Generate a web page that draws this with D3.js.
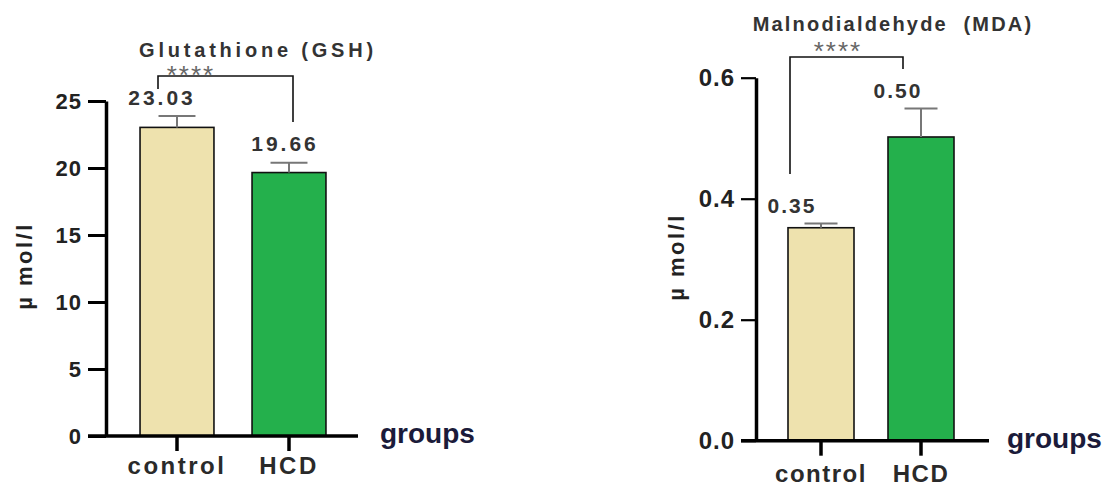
<!DOCTYPE html>
<html>
<head>
<meta charset="utf-8">
<script src="https://cdn.jsdelivr.net/npm/d3@7"></script>
<style>
	html, body { margin: 0; padding: 0; background: #fff; }
	svg { display: block; font-family: "Liberation Sans", Arial, sans-serif; }
</style>
</head>
<body>
<div id="chart"></div>
<script>

// Data:
var groups = ['control', 'HCD'];

var gshMeans = [23.03, 19.66],
	gshErrors = [0.85, 0.73],
	gshLabels = ['23.03', '19.66'],
	gshTicks = [0, 5, 10, 15, 20, 25];

var mdaMeans = [0.352, 0.502],
	mdaErrors = [0.007, 0.047],
	mdaLabels = ['0.35', '0.50'],
	mdaTicks = [0, 0.2, 0.4, 0.6];

var colors = ['#EEE2AE', '#24B04C'];

var svg = d3.select('#chart').append('svg')
	.attr('width', 1109)
	.attr('height', 487);

// Draw one bar panel:
function drawPanel( opts ) {

	var g = svg.append('g');

	var y = d3.scaleLinear()
		.domain( opts.domain )
		.range( [opts.bottom, opts.top] );

	var x = d3.scaleBand()
		.domain( groups )
		.range( opts.xRange )
		.paddingInner( 0.34 )
		.paddingOuter( 0.17 );

	// Bars:
	g.selectAll('rect.bar')
		.data( opts.means )
		.enter().append('rect')
			.attr('class', 'bar')
			.attr('x', function(d, i) { return x(groups[i]); })
			.attr('y', function(d) { return y(d); })
			.attr('width', x.bandwidth())
			.attr('height', function(d) { return y(0) - y(d); })
			.attr('fill', function(d, i) { return colors[i]; })
			.attr('stroke', '#111')
			.attr('stroke-width', 1.6);

	// Error bars (upper half only):
	var capW = x.bandwidth() / 2;
	opts.means.forEach(function(m, i) {
		var cx = x(groups[i]) + x.bandwidth() / 2,
			top = y(m + opts.errors[i]);
		g.append('line')
			.attr('x1', cx).attr('x2', cx)
			.attr('y1', y(m)).attr('y2', top)
			.attr('stroke', '#777').attr('stroke-width', 2);
		g.append('line')
			.attr('x1', cx - capW / 2).attr('x2', cx + capW / 2)
			.attr('y1', top).attr('y2', top)
			.attr('stroke', '#777').attr('stroke-width', 2);
	});

	// Value labels:
	g.selectAll('text.val')
		.data( opts.labels )
		.enter().append('text')
			.attr('class', 'val')
			.attr('x', function(d, i) { return x(groups[i]) + x.bandwidth() / 2 + opts.valShift[i]; })
			.attr('y', function(d, i) { return y(opts.means[i] + opts.errors[i]) + opts.valDy[i]; })
			.attr('text-anchor', 'middle')
			.attr('font-size', 21)
			.attr('font-weight', 'bold')
			.attr('letter-spacing', opts.valSpacing)
			.attr('fill', '#333')
			.text(function(d) { return d; });

	// Y axis:
	var yAxis = d3.axisLeft( y )
		.tickValues( opts.ticks )
		.tickFormat( opts.format )
		.tickSize( opts.tickLen )
		.tickSizeOuter( 0 )
		.tickPadding( 6 );

	var ya = g.append('g')
		.attr('transform', 'translate(' + opts.axisX + ',0)')
		.call( yAxis );
	ya.select('.domain').attr('stroke', '#000').attr('stroke-width', 3.5);
	ya.selectAll('.tick line').attr('stroke', '#000').attr('stroke-width', opts.tickW);
	ya.selectAll('.tick text')
		.attr('font-size', opts.tickFont)
		.attr('font-weight', 'bold')
		.attr('letter-spacing', 1)
		.attr('fill', '#222')
		.attr('font-family', '"Liberation Sans", Arial, sans-serif');

	// X axis:
	g.append('line')
		.attr('x1', opts.axisX - opts.tickLen).attr('x2', opts.xEnd)
		.attr('y1', y(0)).attr('y2', y(0))
		.attr('stroke', '#000').attr('stroke-width', 3.5);

	var xAxis = d3.axisBottom( x )
		.tickSize( 15 )
		.tickSizeOuter( 0 )
		.tickPadding( opts.catPad );

	var xa = g.append('g')
		.attr('transform', 'translate(0,' + y(0) + ')')
		.call( xAxis );
	xa.select('.domain').remove();
	xa.selectAll('.tick line').attr('stroke', '#000').attr('stroke-width', 3.5);
	xa.selectAll('.tick text')
		.attr('font-size', 24)
		.attr('font-weight', 'bold')
		.attr('letter-spacing', opts.catSpacing)
		.attr('fill', '#2a2a2a')
		.attr('font-family', '"Liberation Sans", Arial, sans-serif');

	// "groups" label:
	g.append('text')
		.attr('x', opts.groupsX)
		.attr('y', y(0) + 7)
		.attr('font-size', 28)
		.attr('font-weight', 'bold')
		.attr('fill', '#1B1B3A')
		.text('groups');

	// Y axis title:
	g.append('text')
		.attr('transform', 'translate(' + opts.yTitle[0] + ',' + opts.yTitle[1] + ') rotate(-90)')
		.attr('text-anchor', 'middle')
		.attr('font-size', 22)
		.attr('font-weight', 'bold')
		.attr('letter-spacing', 2.5)
		.attr('fill', '#222')
		.text('\u00B5 mol/l');

	// Chart title:
	g.append('text')
		.attr('x', opts.title[1])
		.attr('y', opts.title[2])
		.attr('text-anchor', 'middle')
		.attr('font-size', 20)
		.attr('font-weight', 'bold')
		.attr('letter-spacing', opts.titleSpacing)
		.attr('fill', '#333')
		.attr('xml:space', 'preserve')
		.style('white-space', 'pre')
		.text(opts.title[0]);

	// Significance bracket:
	var b = opts.bracket,
		lx = x(groups[0]) + x.bandwidth() / 2 + b.dx[0],
		rx = x(groups[1]) + x.bandwidth() / 2 + b.dx[1];
	g.append('path')
		.attr('d', 'M' + lx + ',' + b.yl + 'V' + b.top + 'H' + rx + 'V' + b.yr)
		.attr('fill', 'none')
		.attr('stroke', '#111')
		.attr('stroke-width', 1.6);
	g.append('text')
		.attr('x', b.starX)
		.attr('y', b.top + b.starDy)
		.attr('text-anchor', 'middle')
		.attr('font-size', 26)
		.attr('letter-spacing', 2)
		.attr('fill', '#666')
		.text('****');
}

drawPanel({
	domain: [0, 25], bottom: 436, top: 101,
	xRange: [121, 345], axisX: 106, xEnd: 358,
	means: gshMeans, errors: gshErrors, labels: gshLabels,
	ticks: gshTicks, format: d3.format('d'),
	tickLen: 18, tickW: 3, tickFont: 22,
	valShift: [-15, -4], valDy: [-11, -12], valSpacing: 3,
	catSpacing: 2.5, catPad: 6,
	groupsX: 380, yTitle: [32, 266],
	title: ['Glutathione (GSH)', 258, 57], titleSpacing: 3.8,
	bracket: { dx: [-19, 4], yl: 89, top: 76, starX: 191, starDy: 8, yr: 122 }
});

drawPanel({
	domain: [0, 0.6], bottom: 440.7, top: 77.7,
	xRange: [771, 971], axisX: 756, xEnd: 989,
	means: mdaMeans, errors: mdaErrors, labels: mdaLabels,
	ticks: mdaTicks, format: d3.format('.1f'),
	tickLen: 15, tickW: 2.2, tickFont: 24,
	valShift: [-29, -23], valDy: [-11, -11], valSpacing: 2,
	catSpacing: 1.5, catPad: 9,
	groupsX: 1007, yTitle: [684, 257],
	title: ['Malnodialdehyde  (MDA)', 893, 31], titleSpacing: 2.2,
	bracket: { dx: [-31, -18], yl: 174, top: 57, starX: 838, starDy: 3, yr: 69 }
});

</script>
</body>
</html>
